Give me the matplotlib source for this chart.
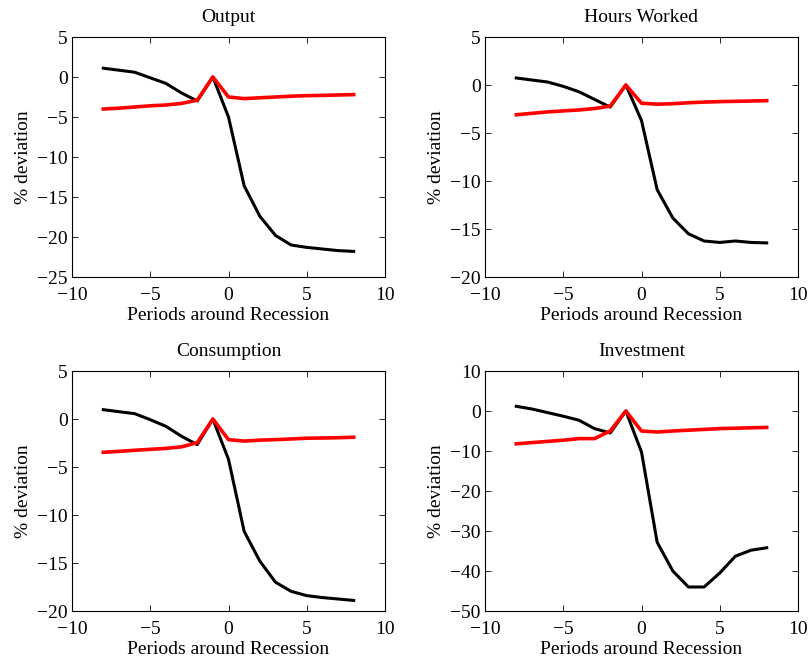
import matplotlib
matplotlib.use('Agg')
import matplotlib.pyplot as plt

# Períodos em torno da recessão
periods = list(range(-8, 9))

# Valores (% desvio): preto = dados, vermelho = modelo
output_black = [1.1, 0.85, 0.6, -0.1, -0.8, -2.0, -3.0, 0.0, -5.0, -13.6, -17.4,
                -19.8, -21.0, -21.3, -21.5, -21.7, -21.8]
output_red = [-4.0, -3.9, -3.75, -3.6, -3.5, -3.3, -2.9, 0.0, -2.5, -2.7, -2.6,
              -2.5, -2.4, -2.33, -2.3, -2.25, -2.2]

hours_black = [0.73, 0.52, 0.31, -0.14, -0.7, -1.5, -2.3, 0.0, -3.7, -10.9, -13.85,
               -15.5, -16.25, -16.4, -16.25, -16.4, -16.45]
hours_red = [-3.1, -2.95, -2.8, -2.7, -2.6, -2.45, -2.2, 0.0, -1.9, -2.0, -1.95,
             -1.85, -1.78, -1.73, -1.7, -1.67, -1.63]

cons_black = [0.97, 0.76, 0.56, -0.07, -0.76, -1.8, -2.67, 0.0, -4.2, -11.7, -14.8,
              -17.0, -17.95, -18.4, -18.6, -18.75, -18.9]
cons_red = [-3.47, -3.37, -3.26, -3.16, -3.06, -2.9, -2.47, 0.0, -2.15, -2.3, -2.2,
            -2.15, -2.08, -2.0, -1.98, -1.95, -1.9]

inv_black = [1.17, 0.5, -0.4, -1.3, -2.3, -4.4, -5.5, 0.0, -10.25, -32.8, -40.0,
             -44.0, -44.0, -40.5, -36.3, -34.8, -34.2]
inv_red = [-8.2, -7.9, -7.6, -7.3, -6.9, -6.9, -5.0, 0.0, -5.0, -5.25, -5.0,
           -4.8, -4.6, -4.4, -4.3, -4.2, -4.1]

titles = ["Output", "Hours Worked", "Consumption", "Investment"]
ylims = [(-25, 5), (-20, 5), (-20, 5), (-50, 10)]
yticks = [[-25, -20, -15, -10, -5, 0, 5],
          [-20, -15, -10, -5, 0, 5],
          [-20, -15, -10, -5, 0, 5],
          [-50, -40, -30, -20, -10, 0, 10]]
xticks = [-10, -5, 0, 5, 10]

plt.rcParams['font.family'] = ['Liberation Serif', 'DejaVu Serif']
plt.rcParams['font.size'] = 14
plt.rcParams['axes.unicode_minus'] = True

fig = plt.figure(figsize=(8.11, 6.59), dpi=100)
posicoes = [
    [72 / 811, 1 - 277 / 659, 313 / 811, 240 / 659],
    [485 / 811, 1 - 277 / 659, 313 / 811, 240 / 659],
    [72 / 811, 1 - 611 / 659, 313 / 811, 240 / 659],
    [485 / 811, 1 - 611 / 659, 313 / 811, 240 / 659],
]
series = [(output_black, output_red), (hours_black, hours_red),
          (cons_black, cons_red), (inv_black, inv_red)]

for i in range(4):
    ax = fig.add_axes(posicoes[i])
    preto, vermelho = series[i]
    ax.plot(periods, preto, color='black', linewidth=2.2)
    ax.plot(periods, vermelho, color='red', linewidth=2.6)
    ax.set_xlim(-10, 10)
    ax.set_ylim(*ylims[i])
    ax.set_xticks(xticks)
    ax.set_yticks(yticks[i])
    ax.tick_params(direction='in', top=True, right=True, length=4, width=0.6)
    ax.tick_params(axis='x', pad=7)
    ax.tick_params(axis='y', pad=3)
    for s in ax.spines.values():
        s.set_linewidth(0.8)
    ax.set_title(titles[i], fontsize=14, pad=11)
    ax.set_xlabel("Periods around Recession", labelpad=2)
    ax.set_ylabel("% deviation", labelpad=4)

fig.savefig("out.png", dpi=100)
